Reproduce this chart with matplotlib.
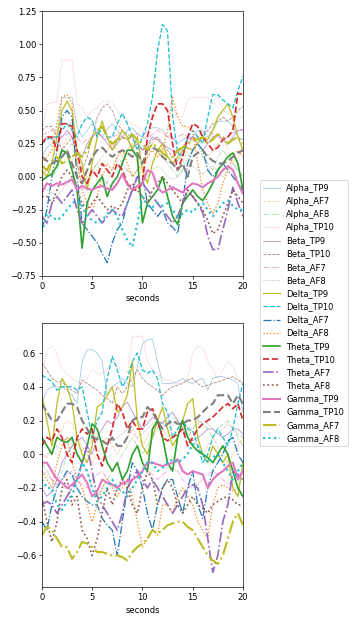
import numpy as np
import matplotlib
matplotlib.use("Agg")
import matplotlib.pyplot as plt

# time axis (seconds), one sample every half second
t = np.linspace(0, 20, 41)

labels = ["Alpha_TP9", "Alpha_AF7", "Alpha_AF8", "Alpha_TP10",
          "Beta_TP9", "Beta_TP10", "Beta_AF7", "Beta_AF8",
          "Delta_TP9", "Delta_TP10", "Delta_AF7", "Delta_AF8",
          "Theta_TP9", "Theta_TP10", "Theta_AF7", "Theta_AF8",
          "Gamma_TP9", "Gamma_TP10", "Gamma_AF7", "Gamma_AF8"]

# ---- first recording ----
alpha_tp9_1 = [0.15,0.22,0.25,0.30,0.60,0.60,0.60,0.38,0.30,0.35,0.40,0.35,0.30,0.36,0.40,0.35,0.30,0.35,0.37,0.32,0.30,0.35,0.37,0.37,0.35,0.30,0.30,0.25,0.28,0.30,0.30,0.35,0.35,0.30,0.35,0.42,0.42,0.42,0.38,0.30,0.28]
alpha_af7_1 = [0.00,0.05,0.10,0.15,0.20,0.30,0.30,0.10,-0.05,0.00,0.05,0.10,0.15,0.20,0.25,0.20,0.15,0.20,0.25,0.10,0.00,0.15,0.25,0.30,0.20,0.15,0.10,0.05,0.10,0.20,0.30,0.25,0.20,0.15,0.20,0.25,0.30,0.20,0.10,0.15,0.20]
alpha_af8_1 = [0.10,0.05,0.00,0.05,0.15,0.20,0.25,0.10,0.00,-0.05,0.05,0.10,0.00,-0.05,0.05,0.15,0.10,0.05,0.00,0.05,0.10,0.20,0.25,0.20,0.15,0.10,0.05,0.00,0.05,0.15,0.20,0.25,0.15,0.10,0.05,0.15,0.20,0.15,0.10,0.05,0.00]
alpha_tp10_1 = [0.33,0.55,0.56,0.56,0.88,0.88,0.88,0.55,0.52,0.45,0.50,0.52,0.57,0.57,0.56,0.50,0.45,0.42,0.40,0.38,0.35,0.30,0.50,0.55,0.55,0.52,0.55,0.45,0.45,0.58,0.60,0.60,0.60,0.60,0.55,0.62,0.50,0.48,0.45,0.45,0.45]
beta_tp9_1 = [0.25,0.30,0.28,0.25,0.30,0.35,0.30,0.20,0.15,0.25,0.30,0.34,0.30,0.25,0.20,0.25,0.30,0.28,0.22,0.25,0.20,0.25,0.30,0.28,0.25,0.22,0.20,0.18,0.22,0.28,0.30,0.25,0.20,0.25,0.30,0.32,0.28,0.25,0.30,0.35,0.35]
beta_tp10_1 = [0.35,0.38,0.38,0.30,0.20,0.25,0.30,0.15,0.05,0.15,0.30,0.45,0.52,0.55,0.50,0.40,0.35,0.32,0.30,0.25,0.20,0.22,0.28,0.30,0.25,0.20,0.15,0.12,0.18,0.25,0.30,0.28,0.30,0.35,0.40,0.42,0.45,0.42,0.45,0.50,0.53]
beta_af7_1 = [0.32,0.33,0.35,0.33,0.30,0.32,0.35,0.30,0.25,0.28,0.30,0.33,0.30,0.28,0.30,0.32,0.30,0.28,0.30,0.33,0.30,0.28,0.32,0.35,0.33,0.30,0.28,0.30,0.32,0.30,0.28,0.30,0.33,0.35,0.32,0.30,0.28,0.30,0.33,0.35,0.36]
beta_af8_1 = [-0.05,-0.10,-0.12,-0.15,-0.10,-0.05,0.00,-0.05,-0.10,-0.05,0.00,0.05,0.00,-0.05,-0.08,-0.05,0.00,0.05,0.02,-0.03,-0.05,0.00,0.05,0.08,0.05,0.00,-0.02,0.00,0.05,0.10,0.08,0.05,0.02,0.05,0.08,0.05,0.00,0.05,0.10,0.05,0.00]
delta_tp9_1 = [0.05,0.00,0.10,0.30,0.50,0.57,0.50,0.20,0.10,-0.10,0.10,0.30,0.42,0.30,0.20,0.28,0.35,0.30,0.20,0.30,0.05,-0.05,0.10,0.20,0.25,0.15,0.10,0.15,0.20,0.22,0.20,0.25,0.30,0.28,0.35,0.45,0.50,0.55,0.45,0.30,0.20]
delta_tp10_1 = [0.25,0.28,0.30,0.30,0.35,0.40,0.35,0.30,0.40,0.45,0.43,0.30,0.38,0.30,0.30,0.40,0.48,0.40,0.30,0.20,0.30,0.40,0.60,0.95,1.15,1.10,0.46,0.18,0.15,0.30,0.35,0.30,0.25,0.45,0.62,0.62,0.58,0.55,0.52,0.65,0.76]
delta_af7_1 = [-0.40,-0.25,0.00,0.20,0.45,0.50,0.45,0.00,-0.35,-0.40,-0.45,-0.50,-0.58,-0.65,-0.50,-0.40,-0.35,-0.20,-0.10,0.00,0.00,-0.20,-0.25,-0.30,-0.25,-0.35,-0.38,-0.43,-0.20,0.10,0.20,0.25,0.20,0.05,0.00,0.05,0.10,0.05,0.00,-0.05,-0.10]
delta_af8_1 = [0.10,0.15,0.20,0.40,0.60,0.62,0.55,0.10,-0.10,-0.20,-0.25,-0.15,0.00,0.10,0.05,0.15,0.20,0.10,0.00,0.05,0.10,0.15,0.20,0.15,0.20,0.35,0.60,0.45,0.38,0.38,0.35,0.10,-0.10,-0.20,-0.28,-0.20,-0.05,0.05,0.15,0.20,0.15]
theta_tp9_1 = [-0.03,0.00,0.02,0.08,0.20,0.18,0.05,-0.10,-0.54,-0.20,-0.10,-0.05,0.00,-0.15,-0.05,0.00,0.10,0.20,0.20,0.15,-0.35,-0.20,-0.15,-0.10,0.00,-0.15,-0.30,-0.36,-0.20,-0.15,-0.10,-0.15,-0.18,-0.12,-0.05,0.05,0.10,0.15,0.18,0.10,-0.10]
theta_tp10_1 = [0.25,0.30,0.30,0.20,0.40,0.40,0.38,0.20,0.00,-0.05,0.05,0.00,0.10,0.05,0.00,0.10,0.05,-0.05,-0.10,-0.10,-0.05,0.30,0.45,0.55,0.55,0.50,0.25,0.05,0.15,0.30,0.40,0.38,0.30,0.25,0.20,0.22,0.28,0.30,0.35,0.63,0.62]
theta_af7_1 = [-0.30,-0.35,-0.20,-0.15,-0.20,-0.15,-0.10,-0.25,-0.35,-0.30,-0.25,-0.30,-0.35,-0.30,-0.25,-0.28,-0.30,-0.20,-0.10,0.00,-0.05,-0.10,-0.15,-0.20,-0.25,-0.30,-0.35,-0.30,-0.20,-0.10,-0.15,-0.20,-0.27,-0.45,-0.55,-0.55,-0.40,-0.25,-0.08,-0.20,-0.30]
theta_af8_1 = [-0.15,-0.15,-0.20,-0.10,0.00,0.05,0.00,-0.10,-0.20,-0.25,-0.20,-0.15,-0.20,-0.25,-0.22,-0.25,-0.20,-0.10,-0.05,-0.10,-0.15,-0.20,-0.10,-0.05,0.00,-0.05,-0.10,-0.15,-0.20,-0.10,-0.15,-0.20,-0.25,-0.33,-0.43,-0.40,-0.30,-0.20,-0.10,-0.15,-0.20]
gamma_tp9_1 = [-0.12,-0.05,-0.07,-0.05,-0.06,-0.04,-0.02,-0.10,-0.07,-0.09,-0.10,-0.08,-0.07,-0.09,-0.10,-0.05,0.02,-0.06,-0.10,-0.07,-0.05,0.05,0.03,-0.08,-0.12,-0.10,-0.08,-0.10,-0.12,-0.08,-0.05,-0.06,-0.08,-0.05,-0.03,0.00,0.05,0.08,0.05,-0.05,-0.13]
gamma_tp10_1 = [0.15,0.12,0.10,0.12,0.15,0.20,0.10,0.00,-0.05,0.05,0.15,0.20,0.22,0.18,0.15,0.18,0.20,0.18,0.15,0.18,0.10,0.20,0.22,0.20,0.15,0.12,0.10,0.05,0.10,0.00,0.15,0.18,0.20,0.15,0.12,0.10,0.10,0.12,0.15,0.18,0.20]
gamma_af7_1 = [0.08,0.05,0.12,0.15,0.10,0.12,0.15,0.18,0.15,0.20,0.30,0.35,0.38,0.30,0.25,0.28,0.30,0.28,0.32,0.28,0.25,0.20,0.25,0.22,0.18,0.15,0.15,0.20,0.22,0.25,0.28,0.28,0.30,0.25,0.28,0.32,0.30,0.25,0.28,0.30,0.25]
gamma_af8_1 = [-0.42,-0.28,-0.30,-0.33,-0.30,-0.25,-0.20,-0.18,-0.22,-0.30,-0.33,-0.35,-0.33,-0.28,-0.25,-0.30,-0.40,-0.48,-0.53,-0.35,-0.15,-0.22,-0.23,-0.20,-0.22,-0.20,-0.25,-0.30,-0.28,-0.25,-0.27,-0.22,-0.20,-0.25,-0.30,-0.25,-0.20,-0.18,-0.22,-0.25,-0.25]

# ---- second recording ----
alpha_tp9_2 = [0.30,0.38,0.40,0.40,0.40,0.38,0.35,0.30,0.55,0.62,0.62,0.60,0.55,0.35,0.40,0.42,0.45,0.42,0.40,0.52,0.65,0.68,0.68,0.55,0.42,0.42,0.42,0.43,0.45,0.43,0.42,0.44,0.45,0.38,0.45,0.46,0.46,0.45,0.44,0.42,0.25]
alpha_af7_2 = [0.00,-0.02,0.05,0.10,0.15,0.20,0.18,0.10,0.05,0.00,-0.05,0.00,0.05,0.10,0.05,0.00,0.05,0.10,0.15,0.10,0.05,0.10,0.15,0.18,0.15,0.12,0.10,0.15,0.20,0.15,0.08,0.05,0.00,0.05,0.10,0.05,0.00,-0.05,0.00,0.05,0.10]
alpha_af8_2 = [-0.05,-0.10,-0.15,-0.20,-0.10,0.00,0.05,0.00,-0.05,-0.10,-0.20,-0.25,-0.20,-0.15,-0.10,-0.05,0.00,0.05,0.10,0.05,0.00,0.05,0.10,0.15,0.20,0.18,0.22,0.20,0.15,0.10,0.15,0.20,0.18,0.15,0.10,0.15,0.18,0.20,0.15,0.10,0.05]
alpha_tp10_2 = [0.45,0.62,0.64,0.60,0.50,0.48,0.45,0.43,0.42,0.45,0.50,0.48,0.48,0.50,0.55,0.52,0.50,0.48,0.70,0.70,0.70,0.55,0.50,0.48,0.45,0.44,0.43,0.42,0.42,0.45,0.60,0.64,0.63,0.55,0.50,0.45,0.50,0.55,0.52,0.45,0.42]
beta_tp9_2 = [-0.20,-0.25,-0.22,-0.15,-0.05,0.00,0.05,0.08,0.10,0.05,0.00,0.10,0.15,0.20,0.18,0.22,0.28,0.31,0.25,0.20,0.15,0.18,0.22,0.20,0.18,0.22,0.25,0.20,0.15,0.10,0.08,0.10,0.12,0.15,0.15,0.12,0.10,0.12,0.15,0.15,0.12]
beta_tp10_2 = [0.54,0.50,0.45,0.43,0.43,0.40,0.38,0.36,0.44,0.42,0.40,0.38,0.35,0.33,0.30,0.40,0.36,0.40,0.45,0.50,0.45,0.42,0.40,0.38,0.35,0.38,0.40,0.41,0.42,0.44,0.45,0.42,0.40,0.41,0.42,0.43,0.44,0.45,0.46,0.44,0.42]
beta_af7_2 = [-0.10,-0.12,-0.15,-0.18,-0.15,-0.12,-0.10,-0.15,-0.18,-0.20,-0.15,-0.12,-0.10,-0.15,-0.18,-0.20,-0.18,-0.15,-0.12,-0.10,-0.08,-0.10,-0.12,-0.15,-0.12,-0.10,-0.08,-0.10,-0.15,-0.18,-0.20,-0.18,-0.15,-0.12,-0.10,-0.12,-0.15,-0.18,-0.15,-0.12,-0.10]
beta_af8_2 = [-0.02,0.00,0.02,0.05,0.08,0.10,0.08,0.05,0.02,0.05,0.08,0.10,0.08,0.05,0.08,0.10,0.12,0.15,0.12,0.10,0.12,0.15,0.18,0.20,0.18,0.15,0.18,0.20,0.18,0.16,0.15,0.18,0.20,0.18,0.15,0.12,0.15,0.18,0.15,0.12,0.10]
delta_tp9_2 = [0.35,0.20,0.05,0.30,0.45,0.40,0.30,0.10,0.00,-0.05,0.05,0.28,0.30,0.35,0.40,0.25,0.28,0.35,0.55,0.20,0.05,0.00,0.10,0.20,0.28,0.15,0.05,0.10,0.20,0.30,0.33,0.10,0.00,-0.05,0.05,0.00,-0.05,0.00,-0.20,-0.25,-0.05]
delta_tp10_2 = [0.47,0.45,0.43,0.38,0.40,0.40,0.40,0.38,0.40,0.25,0.10,0.20,0.25,0.45,0.58,0.50,0.40,0.45,0.55,0.60,0.50,0.48,0.50,0.45,0.30,0.25,0.10,0.15,0.20,0.15,0.14,0.05,-0.05,0.00,0.10,0.15,0.10,0.05,0.15,0.30,0.42]
delta_af7_2 = [-0.40,-0.45,-0.30,-0.20,-0.15,-0.10,-0.12,-0.20,-0.25,-0.28,-0.30,-0.30,-0.38,-0.42,-0.45,-0.60,-0.40,-0.20,-0.05,-0.10,-0.20,-0.35,-0.45,-0.30,-0.20,-0.15,-0.15,-0.25,-0.35,-0.20,-0.10,-0.30,-0.38,-0.20,-0.10,-0.05,0.00,0.08,0.10,0.00,-0.05]
delta_af8_2 = [-0.10,-0.15,-0.20,-0.05,0.05,0.10,-0.05,-0.15,-0.20,-0.30,-0.40,-0.30,-0.20,-0.15,-0.20,-0.25,-0.20,-0.15,-0.25,-0.40,-0.55,-0.50,-0.45,-0.48,-0.30,-0.30,-0.35,-0.25,-0.20,-0.25,-0.30,-0.40,-0.45,-0.50,-0.30,-0.20,-0.18,-0.20,-0.22,-0.20,-0.25]
theta_tp9_2 = [0.10,0.05,0.00,0.10,0.08,0.07,0.10,0.00,-0.05,0.05,0.18,0.15,0.05,-0.05,-0.10,-0.05,-0.15,-0.10,0.00,0.05,-0.05,-0.10,0.15,0.20,0.10,-0.05,-0.10,0.10,0.20,0.10,0.05,0.02,0.00,-0.02,-0.05,0.00,0.05,0.00,-0.10,-0.20,-0.25]
theta_tp10_2 = [0.05,0.10,0.08,0.15,0.10,0.00,-0.05,0.10,0.15,0.12,0.15,0.00,-0.07,0.05,0.15,0.30,0.25,0.15,0.20,0.15,0.15,0.25,0.27,0.20,0.10,0.08,0.10,0.12,0.15,0.05,0.10,0.15,0.18,0.20,0.22,0.25,0.28,0.30,0.27,0.30,0.20]
theta_af7_2 = [-0.30,-0.28,-0.30,-0.35,-0.30,-0.25,-0.20,-0.15,-0.05,0.05,-0.10,-0.25,-0.30,-0.35,-0.40,-0.45,-0.35,-0.20,-0.15,-0.10,-0.15,-0.20,-0.15,-0.20,-0.25,-0.30,-0.35,-0.30,-0.25,-0.20,-0.18,-0.20,-0.30,-0.50,-0.70,-0.60,-0.40,-0.30,-0.10,-0.12,-0.15]
theta_af8_2 = [-0.25,-0.40,-0.52,-0.40,-0.20,-0.15,-0.30,-0.25,-0.45,-0.50,-0.60,-0.50,-0.35,-0.20,-0.30,-0.20,-0.15,-0.20,-0.30,-0.35,-0.20,-0.10,-0.15,-0.30,-0.20,-0.15,-0.20,-0.30,-0.35,-0.30,-0.25,-0.30,-0.32,-0.35,-0.30,-0.28,-0.26,-0.25,-0.27,-0.30,-0.30]
gamma_tp9_2 = [-0.05,-0.05,-0.10,-0.15,-0.17,-0.20,-0.18,-0.15,-0.12,-0.17,-0.25,-0.22,-0.15,-0.17,-0.18,-0.20,-0.17,-0.16,-0.15,-0.13,-0.10,-0.05,-0.05,-0.06,-0.07,-0.06,-0.05,-0.03,-0.10,-0.12,-0.10,-0.11,-0.12,-0.20,-0.15,-0.12,-0.10,-0.07,-0.05,-0.15,-0.10]
gamma_tp10_2 = [0.30,0.25,0.20,0.20,0.25,0.30,0.30,0.28,0.20,0.15,0.10,0.09,0.08,0.06,0.10,0.05,0.05,0.10,0.20,0.22,0.22,0.28,0.25,0.20,0.15,0.18,0.20,0.18,0.18,0.20,0.20,0.22,0.25,0.28,0.30,0.35,0.35,0.35,0.30,0.35,0.30]
gamma_af7_2 = [-0.48,-0.43,-0.45,-0.50,-0.55,-0.55,-0.62,-0.58,-0.52,-0.53,-0.55,-0.58,-0.58,-0.59,-0.60,-0.60,-0.61,-0.63,-0.58,-0.55,-0.53,-0.50,-0.45,-0.47,-0.45,-0.42,-0.41,-0.40,-0.40,-0.43,-0.45,-0.50,-0.55,-0.60,-0.63,-0.65,-0.60,-0.50,-0.40,-0.35,-0.42]
gamma_af8_2 = [-0.15,-0.20,-0.20,-0.30,-0.33,-0.28,-0.25,-0.15,-0.05,-0.10,-0.20,-0.28,-0.25,-0.20,-0.15,-0.20,-0.22,-0.25,-0.20,-0.15,-0.10,-0.05,-0.05,-0.10,-0.08,-0.05,-0.03,-0.05,-0.03,0.00,0.06,0.05,0.00,-0.05,-0.02,0.00,-0.05,-0.10,-0.15,-0.10,-0.05]

rec1 = [alpha_tp9_1, alpha_af7_1, alpha_af8_1, alpha_tp10_1,
        beta_tp9_1, beta_tp10_1, beta_af7_1, beta_af8_1,
        delta_tp9_1, delta_tp10_1, delta_af7_1, delta_af8_1,
        theta_tp9_1, theta_tp10_1, theta_af7_1, theta_af8_1,
        gamma_tp9_1, gamma_tp10_1, gamma_af7_1, gamma_af8_1]
rec2 = [alpha_tp9_2, alpha_af7_2, alpha_af8_2, alpha_tp10_2,
        beta_tp9_2, beta_tp10_2, beta_af7_2, beta_af8_2,
        delta_tp9_2, delta_tp10_2, delta_af7_2, delta_af8_2,
        theta_tp9_2, theta_tp10_2, theta_af7_2, theta_af8_2,
        gamma_tp9_2, gamma_tp10_2, gamma_af7_2, gamma_af8_2]

styles = ["-", "--", "-.", ":"]
# per band: line width, opacity
band_lw = [1.0, 1.0, 1.5, 2.0, 2.5]
band_alpha = [0.4, 0.7, 1.0, 1.0, 1.0]

fig = plt.figure(figsize=(361 / 60, 623 / 60), dpi=60)
ax1 = fig.add_axes([0.116, 0.557, 0.557, 0.425])
ax2 = fig.add_axes([0.116, 0.057, 0.557, 0.425])

for ax, rec in [(ax1, rec1), (ax2, rec2)]:
    for i, (lab, y) in enumerate(zip(labels, rec)):
        b = i // 4
        ax.plot(t, y, linestyle=styles[i % 4], lw=band_lw[b],
                alpha=band_alpha[b], label=lab)
    ax.set_xlim(0, 20)
    ax.set_xticks([0, 5, 10, 15, 20])
    ax.set_xlabel("seconds")

ax1.set_ylim(-0.75, 1.25)
ax1.set_yticks(np.arange(-0.75, 1.26, 0.25))
ax2.set_ylim(-0.79, 0.78)
ax2.set_yticks([-0.6, -0.4, -0.2, 0.0, 0.2, 0.4, 0.6])

handles, labs = ax1.get_legend_handles_labels()
fig.legend(handles, labs, loc="center left", bbox_to_anchor=(0.708, 0.497))

fig.savefig("out.png", dpi=60)
